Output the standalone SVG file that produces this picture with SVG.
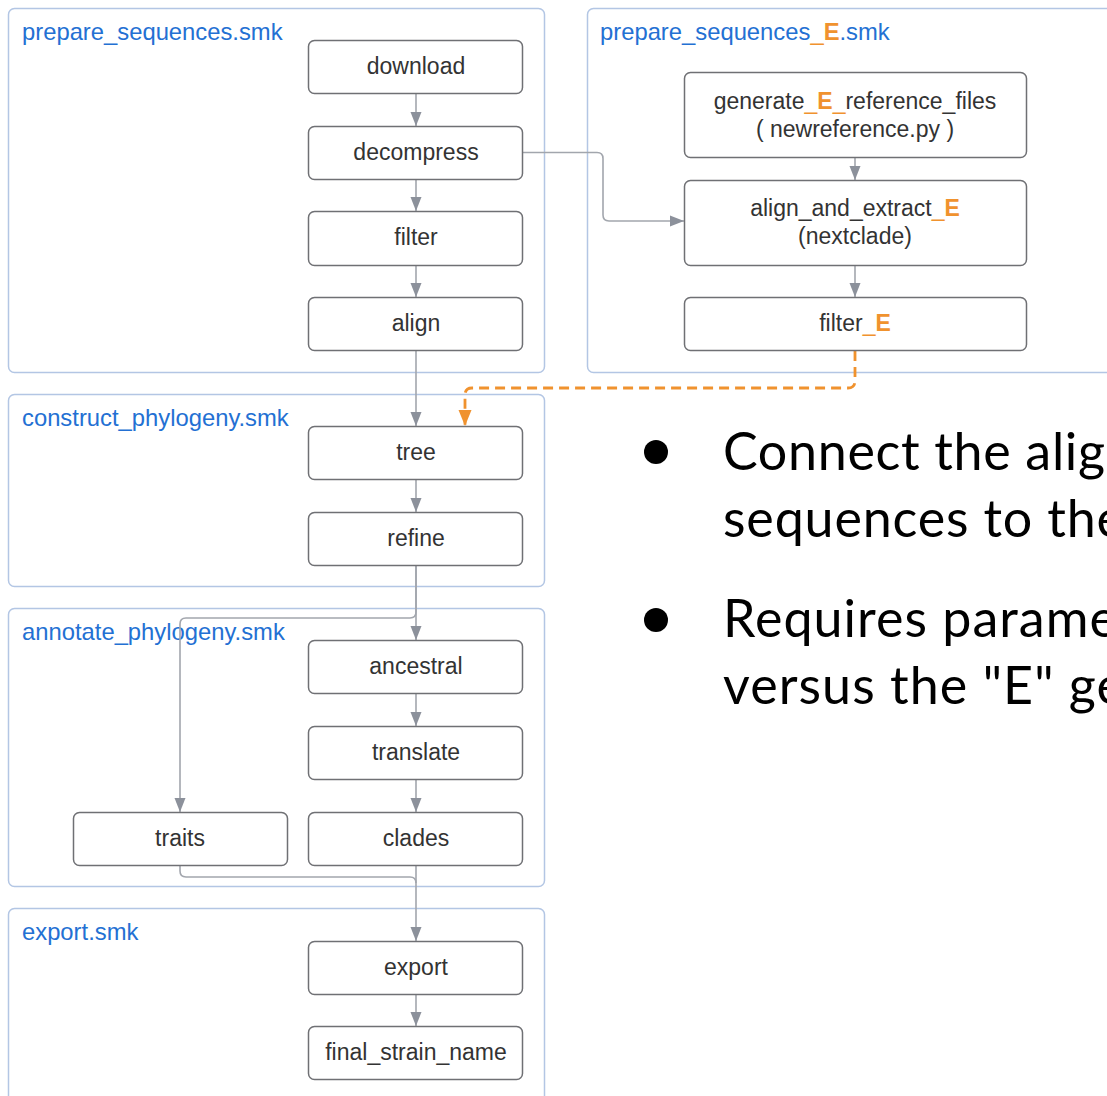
<svg xmlns="http://www.w3.org/2000/svg" width="1107" height="1096" viewBox="0 0 1107 1096">
  <style>
    .group { fill: #ffffff; stroke: #b3c6e4; stroke-width: 1.5; }
    .glabel { font-family: "Liberation Sans", Arial, sans-serif; font-size: 23.8px; fill: #2370d3; }
    .node rect { fill: #ffffff; stroke: #6f7074; stroke-width: 1.5; }
    .node text { font-family: "Liberation Sans", Arial, sans-serif; font-size: 23px; fill: #333333; text-anchor: middle; }
    .e { fill: #f0922e; font-weight: bold; }
    .eu { fill: #f0922e; }
    .edge { fill: none; stroke: #a2a6ad; stroke-width: 1.6; }
    .dash { fill: none; stroke: #f0922e; stroke-width: 2.8; stroke-dasharray: 10 6; }
    .bullet { font-family: Lato, "Open Sans", sans-serif; font-size: 52px; fill: #000000; }
  </style>
  <defs>
    <marker id="arrow" viewBox="0 0 14 12" refX="14" refY="6" markerWidth="14" markerHeight="12" markerUnits="userSpaceOnUse" orient="auto">
      <path d="M0,0.5 L14,6 L0,11.5 Z" fill="#8c919b"/>
    </marker>
    <marker id="arrowOrange" viewBox="0 0 16 14" refX="16" refY="7" markerWidth="16" markerHeight="14" markerUnits="userSpaceOnUse" orient="auto">
      <path d="M0,0.5 L16,7 L0,13.5 Z" fill="#f0922e"/>
    </marker>
  </defs>

  <rect width="1107" height="1096" fill="#ffffff"/>

  <!-- module containers -->
  <g id="group-prepare-sequences">
    <rect class="group" x="8.5" y="8.5" width="536" height="364" rx="6"/>
    <text class="glabel" x="22" y="40">prepare_sequences.smk</text>
  </g>
  <g id="group-prepare-sequences-e">
    <rect class="group" x="587.5" y="8.5" width="530" height="364" rx="6"/>
    <text class="glabel" x="600" y="40">prepare_sequences<tspan class="eu">_</tspan><tspan class="e">E</tspan>.smk</text>
  </g>
  <g id="group-construct-phylogeny">
    <rect class="group" x="8.5" y="394.5" width="536" height="192" rx="6"/>
    <text class="glabel" x="22" y="426">construct_phylogeny.smk</text>
  </g>
  <g id="group-annotate-phylogeny">
    <rect class="group" x="8.5" y="608.5" width="536" height="278" rx="6"/>
    <text class="glabel" x="22" y="640">annotate_phylogeny.smk</text>
  </g>
  <g id="group-export">
    <rect class="group" x="8.5" y="908.5" width="536" height="200" rx="6"/>
    <text class="glabel" x="22" y="940">export.smk</text>
  </g>

  <!-- connectors -->
  <g id="connectors">
    <path class="edge" marker-end="url(#arrow)" d="M416,94 V126"/>
    <path class="edge" marker-end="url(#arrow)" d="M416,180 V211"/>
    <path class="edge" marker-end="url(#arrow)" d="M416,266 V297"/>
    <path class="edge" marker-end="url(#arrow)" d="M416,351 V426"/>
    <path class="edge" marker-end="url(#arrow)" d="M523,152.5 H597 Q603,152.5 603,158.5 V215 Q603,221 609,221 H684"/>
    <path class="edge" marker-end="url(#arrow)" d="M855,158 V180"/>
    <path class="edge" marker-end="url(#arrow)" d="M855,266 V297"/>
    <path class="edge" marker-end="url(#arrow)" d="M416,480 V512"/>
    <path class="edge" marker-end="url(#arrow)" d="M416,566 V640"/>
    <path class="edge" marker-end="url(#arrow)" d="M416,566 V612 Q416,618 410,618 H186 Q180,618 180,624 V812"/>
    <path class="edge" marker-end="url(#arrow)" d="M416,694 V726"/>
    <path class="edge" marker-end="url(#arrow)" d="M416,780 V812"/>
    <path class="edge" marker-end="url(#arrow)" d="M416,866 V941"/>
    <path class="edge" d="M180,866 V871 Q180,877 186,877 H410 Q416,877 416,883"/>
    <path class="edge" marker-end="url(#arrow)" d="M416,995 V1026"/>
    <path class="dash" marker-end="url(#arrowOrange)" d="M855,351 V381 Q855,388 848,388 H472 Q465,388 465,395 V426"/>
  </g>

  <!-- rules -->
  <g id="node-download" class="node">
    <rect x="308.5" y="40.5" width="214" height="53" rx="6"/>
    <text x="416" y="74">download</text>
  </g>
  <g id="node-decompress" class="node">
    <rect x="308.5" y="126.5" width="214" height="53" rx="6"/>
    <text x="416" y="160">decompress</text>
  </g>
  <g id="node-filter" class="node">
    <rect x="308.5" y="211.5" width="214" height="54" rx="6"/>
    <text x="416" y="245">filter</text>
  </g>
  <g id="node-align" class="node">
    <rect x="308.5" y="297.5" width="214" height="53" rx="6"/>
    <text x="416" y="331">align</text>
  </g>

  <g id="node-generate-e-reference-files" class="node">
    <rect x="684.5" y="72.5" width="342" height="85" rx="6"/>
    <text x="855" y="109">generate<tspan class="eu">_</tspan><tspan class="e">E</tspan><tspan class="eu">_</tspan>reference_files</text>
    <text x="855" y="137">( newreference.py )</text>
  </g>
  <g id="node-align-and-extract-e" class="node">
    <rect x="684.5" y="180.5" width="342" height="85" rx="6"/>
    <text x="855" y="216">align_and_extract<tspan class="eu">_</tspan><tspan class="e">E</tspan></text>
    <text x="855" y="244">(nextclade)</text>
  </g>
  <g id="node-filter-e" class="node">
    <rect x="684.5" y="297.5" width="342" height="53" rx="6"/>
    <text x="855" y="331">filter<tspan class="eu">_</tspan><tspan class="e">E</tspan></text>
  </g>

  <g id="node-tree" class="node">
    <rect x="308.5" y="426.5" width="214" height="53" rx="6"/>
    <text x="416" y="460">tree</text>
  </g>
  <g id="node-refine" class="node">
    <rect x="308.5" y="512.5" width="214" height="53" rx="6"/>
    <text x="416" y="546">refine</text>
  </g>

  <g id="node-ancestral" class="node">
    <rect x="308.5" y="640.5" width="214" height="53" rx="6"/>
    <text x="416" y="674">ancestral</text>
  </g>
  <g id="node-translate" class="node">
    <rect x="308.5" y="726.5" width="214" height="53" rx="6"/>
    <text x="416" y="760">translate</text>
  </g>
  <g id="node-traits" class="node">
    <rect x="73.5" y="812.5" width="214" height="53" rx="6"/>
    <text x="180" y="846">traits</text>
  </g>
  <g id="node-clades" class="node">
    <rect x="308.5" y="812.5" width="214" height="53" rx="6"/>
    <text x="416" y="846">clades</text>
  </g>

  <g id="node-export" class="node">
    <rect x="308.5" y="941.5" width="214" height="53" rx="6"/>
    <text x="416" y="975">export</text>
  </g>
  <g id="node-final-strain-name" class="node">
    <rect x="308.5" y="1026.5" width="214" height="53" rx="6"/>
    <text x="416" y="1060">final_strain_name</text>
  </g>

  <!-- notes beside the chart -->
  <g id="notes">
    <circle cx="656" cy="452" r="12" fill="#000000"/>
    <text class="bullet" x="723" y="470" textLength="382" lengthAdjust="spacing">Connect the alig</text>
    <text class="bullet" x="723" y="537" textLength="401" lengthAdjust="spacing">sequences to the</text>
    <circle cx="656" cy="620" r="12" fill="#000000"/>
    <text class="bullet" x="723" y="637" textLength="394" lengthAdjust="spacing">Requires parame</text>
    <text class="bullet" x="723" y="704" textLength="401" lengthAdjust="spacing">versus the "E" ge</text>
  </g>
</svg>
